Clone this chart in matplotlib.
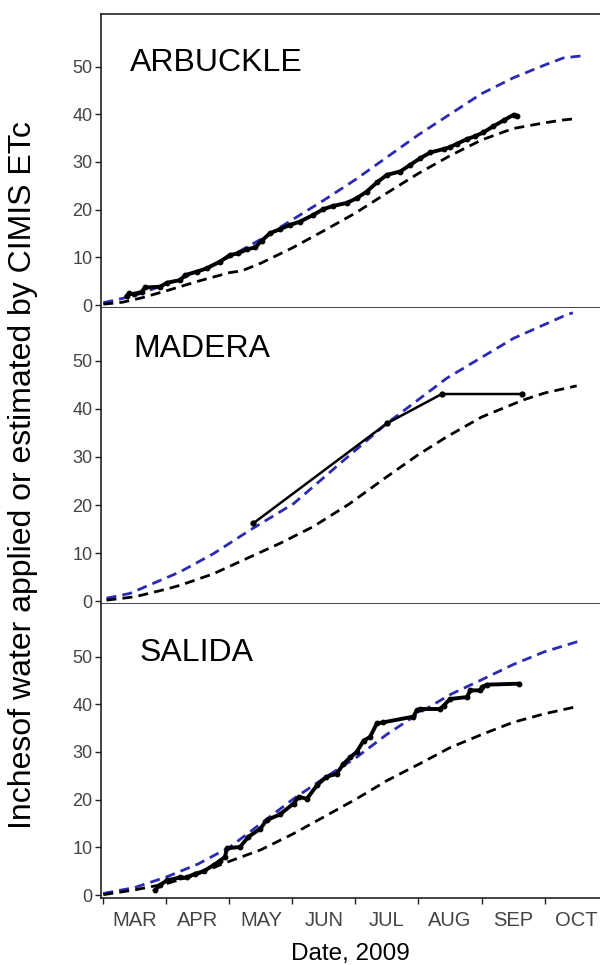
import numpy as np
import matplotlib.pyplot as plt

plt.rcParams['font.family'] = ['Liberation Sans', 'DejaVu Sans']

# x in months after 1 March 2009 (0 = Mar 1, 1 = Apr 1, ...)
months = ['MAR', 'APR', 'MAY', 'JUN', 'JUL', 'AUG', 'SEP', 'OCT']

# ARBUCKLE
arb_blue_x = [0, 0.5, 1, 1.5, 2, 2.5, 3, 3.5, 4, 4.5, 5, 5.5, 6, 6.5, 7, 7.3, 7.57]
arb_blue_y = [0.5, 2.0, 4.4, 7.0, 10.1, 13.8, 17.9, 22.0, 26.3, 31.0, 35.7, 40.0, 44.3, 47.6, 50.3, 51.8, 52.2]
arb_etc_x = [0, 0.3, 0.6, 1.0, 1.5, 2.0, 2.2, 2.5, 3.0, 3.5, 4.0, 4.5, 5.0, 5.5, 6.0, 6.5, 7.0, 7.3, 7.51]
arb_etc_y = [0.2, 0.6, 1.5, 3.0, 5.0, 6.8, 7.2, 8.8, 12.0, 15.6, 19.3, 23.5, 27.6, 31.3, 34.6, 37.0, 38.2, 38.8, 39.1]
arb_app_x = [0.37, 0.41, 0.48, 0.61, 0.66, 0.90, 1.01, 1.22, 1.30, 1.48, 1.64, 1.85, 2.01, 2.14,
             2.28, 2.41, 2.51, 2.65, 2.80, 2.96, 3.12, 3.33, 3.49, 3.65, 3.86, 4.02, 4.18, 4.34,
             4.50, 4.71, 4.87, 5.03, 5.19, 5.40, 5.50, 5.61, 5.77, 5.90, 6.03, 6.19, 6.35, 6.51, 6.56]
arb_app_y = [1.9, 2.45, 2.3, 2.8, 3.7, 3.85, 4.7, 5.25, 6.3, 7.0, 7.7, 9.1, 10.5, 10.85,
             11.7, 12.1, 13.5, 15.1, 15.9, 16.8, 17.5, 18.9, 20.1, 20.8, 21.4, 22.4, 23.8, 25.7,
             27.3, 28.0, 29.4, 30.8, 32.0, 32.7, 33.1, 33.8, 34.8, 35.4, 36.2, 37.5, 38.7, 39.9, 39.7]

# MADERA
mad_blue_x = [0.05, 0.42, 1.22, 1.75, 2.33, 3.02, 3.76, 4.5, 5.45, 6.51, 7.35, 7.45]
mad_blue_y = [0.6, 1.6, 6.1, 9.9, 14.8, 20.3, 28.7, 37.0, 46.4, 54.7, 59.6, 60.0]
mad_etc_x = [0.05, 0.5, 1.0, 1.22, 1.75, 2.33, 2.8, 3.33, 3.9, 4.5, 5.0, 5.45, 6.0, 6.67, 7.0, 7.51]
mad_etc_y = [0.2, 0.9, 2.5, 3.3, 5.7, 9.2, 12.0, 15.5, 20.2, 25.9, 30.5, 34.2, 38.3, 41.9, 43.3, 44.8]
mad_app_x = [2.38, 4.5, 5.37, 6.64]
mad_app_y = [16.2, 37.0, 43.1, 43.1]

# SALIDA
sal_blue_x = [0, 0.5, 1.0, 1.5, 2.01, 2.5, 3.02, 3.5, 4.02, 4.5, 5.03, 5.5, 6.03, 6.5, 7.0, 7.57]
sal_blue_y = [0.35, 1.6, 3.8, 6.5, 10.1, 15.0, 20.2, 24.5, 28.9, 33.7, 38.3, 42.0, 45.3, 48.3, 51.0, 53.3]
sal_etc_x = [0, 0.5, 1.0, 1.5, 1.9, 2.5, 3.02, 3.5, 4.02, 4.5, 5.03, 5.5, 6.03, 6.5, 7.0, 7.51]
sal_etc_y = [0.1, 1.1, 2.4, 4.4, 6.6, 9.5, 12.9, 16.4, 20.2, 24.0, 27.6, 30.9, 33.8, 36.2, 38.0, 39.5]
sal_app_x = [0.82, 0.90, 1.01, 1.22, 1.32, 1.46, 1.59, 1.75, 1.85, 1.93, 1.96, 2.17, 2.30, 2.49,
             2.59, 2.80, 3.02, 3.10, 3.23, 3.39, 3.54, 3.70, 3.81, 3.92, 4.02, 4.13, 4.23, 4.34,
             4.44, 4.92, 4.97, 5.03, 5.34, 5.40, 5.50, 5.77, 5.82, 5.98, 6.01, 6.08, 6.59]
sal_app_y = [1.05, 2.1, 3.1, 3.7, 3.7, 4.5, 5.0, 6.3, 7.2, 8.0, 9.8, 10.1, 12.2, 13.9,
             15.7, 16.9, 19.2, 20.6, 20.2, 23.0, 24.8, 25.4, 27.5, 28.9, 30.0, 32.4, 33.1, 36.0,
             36.2, 37.4, 38.7, 39.0, 39.0, 39.7, 41.1, 41.5, 42.9, 42.9, 43.6, 44.1, 44.3]

panels = [
    ('ARBUCKLE', arb_blue_x, arb_blue_y, arb_etc_x, arb_etc_y, arb_app_x, arb_app_y),
    ('MADERA', mad_blue_x, mad_blue_y, mad_etc_x, mad_etc_y, mad_app_x, mad_app_y),
    ('SALIDA', sal_blue_x, sal_blue_y, sal_etc_x, sal_etc_y, sal_app_x, sal_app_y),
]

W, H = 600, 965
fig = plt.figure(figsize=(W / 100, H / 100), dpi=100)

# pixel boxes (top, bottom) for the three stacked panels
boxes = [(14, 308), (308, 604), (604, 898)]
left_px, right_px = 101, 600
label_pos = [(0.42, 49.0), (0.47, 50.8), (0.58, 49.0)]

blue = '#2a2ab4'
spine_c = '#222222'

for k, (name, bx, by, ex, ey, ax_, ay_) in enumerate(panels):
    top, bot = boxes[k]
    ax = fig.add_axes([left_px / W, (H - bot) / H, (right_px - left_px) / W, (bot - top) / H])
    ax.plot(bx, by, color=blue, lw=2.0, dashes=(3.6, 2.2))
    ax.plot(ex, ey, color='black', lw=2.0, dashes=(3.6, 2.2))
    if name == 'MADERA':
        ax.plot(ax_, ay_, color='black', lw=1.8, marker='o', ms=3.5)
    else:
        ax.plot(ax_, ay_, color='black', lw=2.8, marker='o', ms=3.2)
    ax.text(label_pos[k][0], label_pos[k][1], name, fontsize=23, va='baseline', ha='left')

    ax.set_xlim(-0.037, 7.88)
    ax.set_ylim(-0.6, 61)
    ax.set_yticks([0, 10, 20, 30, 40, 50])
    ax.set_xticks(range(0, 8))
    ax.set_xticks([i + 0.5 for i in range(8)], minor=True)
    ax.tick_params(axis='y', direction='out', length=4, width=1, labelsize=13,
                   labelcolor='#444444', color=spine_c, pad=2)
    ax.tick_params(axis='x', which='major', direction='out', length=4, width=1,
                   color=spine_c, labelbottom=False)
    ax.tick_params(axis='x', which='minor', length=0, labelsize=14.5, labelcolor='#444444', pad=9)
    if k == 2:
        ax.set_xticklabels(months, minor=True)
        ax.set_xlabel('Date, 2009', fontsize=17.5, labelpad=10)
    else:
        ax.tick_params(axis='x', which='minor', labelbottom=False)
    ax.spines['right'].set_visible(False)
    for s in ['left', 'top', 'bottom']:
        ax.spines[s].set_color(spine_c)
        ax.spines[s].set_linewidth(1.2)
    if k > 0:
        ax.spines['top'].set_visible(False)

fig.text(23 / W, 1 - 475 / H, 'Inchesof water applied or estimated by CIMIS ETc',
         rotation=90, fontsize=23, ha='center', va='center')

fig.savefig('out.png', dpi=100)
